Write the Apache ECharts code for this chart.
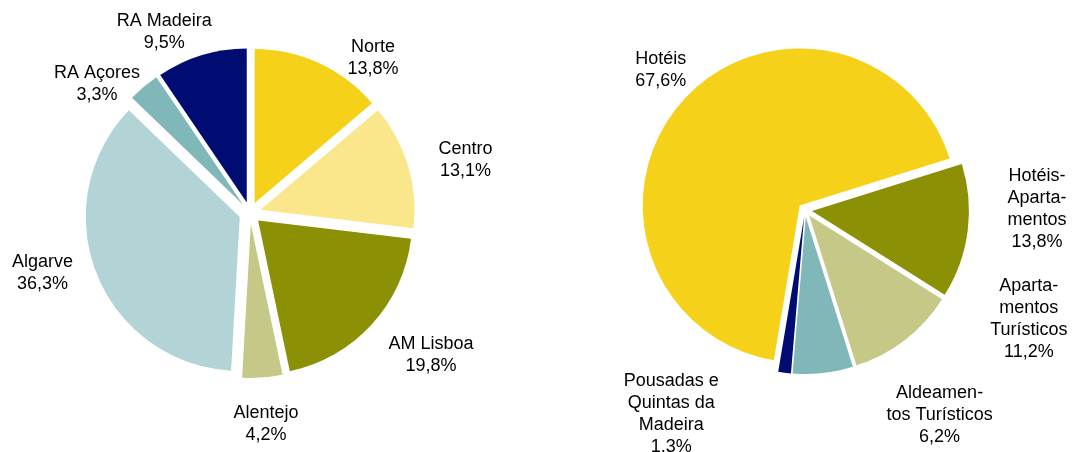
<!DOCTYPE html>
<html>
<head>
<meta charset="utf-8">
<script src="https://cdn.jsdelivr.net/npm/echarts@6/dist/echarts.min.js"></script>
<style>
html,body{margin:0;padding:0;background:#fff;}
#chart{width:1073px;height:452px;}
</style>
</head>
<body>
<div id="chart"></div>
<script>
// ---- data ----
const leftCategories = ['Norte', 'Centro', 'AM Lisboa', 'Alentejo', 'Algarve', 'RA Açores', 'RA Madeira'];
const leftValues = [13.8, 13.1, 19.8, 4.2, 36.3, 3.3, 9.5];
const leftLabelText = ['Norte', 'Centro', 'AM Lisboa', 'Alentejo', 'Algarve', 'RA Açores', 'RA Madeira'];

const rightCategories = ['Hotéis', 'Hotéis-Apartamentos', 'Apartamentos Turísticos', 'Aldeamentos Turísticos', 'Pousadas e Quintas da Madeira'];
const rightValues = [67.6, 13.8, 11.2, 6.2, 1.3];
const rightLabelText = ['Hotéis', 'Hotéis-\nAparta-\nmentos', 'Aparta-\nmentos\nTurísticos', 'Aldeamen-\ntos Turísticos', 'Pousadas e\nQuintas da\nMadeira'];

// ---- styles ----
const leftColors = ['#F6D11A', '#FAE68B', '#8B9005', '#C6C888', '#B3D4D6', '#80B7B8', '#000C72'];
const rightColors = ['#F6D11A', '#8B9005', '#C6C888', '#80B7B8', '#000C72'];

// label placement relative to each slice's bisector (angle shift in deg, distance in px)
const leftLabelShift = [13.6, 2.9, -4.4, 0, 5.3, -9.8, -8.3];
const leftLabelDist = [198, 222, 230, 212, 216, 200, 200];
const rightLabelShift = [3.1, -7.7, -26.4, -27.0, 26.1];
const rightLabelDist = [201, 232, 249, 245, 244];

function fmt(v) { return v.toFixed(1).replace('.', ',') + '%'; }

// label texts placed around each pie, following each slice's mid-angle
function makeLabels(cx, cy, startDeg, values, texts, shifts, dists) {
  const total = values.reduce((a, b) => a + b, 0);
  let s = 0;
  return values.map((v, i) => {
    const mid = startDeg + (s + v / 2) / total * 360 + shifts[i];
    s += v;
    const a = mid * Math.PI / 180;
    return {
      type: 'text',
      x: cx + dists[i] * Math.sin(a),
      y: cy - dists[i] * Math.cos(a),
      silent: true,
      style: {
        text: texts[i] + '\n' + fmt(v),
        fontFamily: 'Liberation Sans, Arial, sans-serif',
        fontSize: 18,
        lineHeight: 22,
        fill: '#000',
        align: 'center',
        verticalAlign: 'middle'
      }
    };
  });
}

const L = { cx: 250, cy: 213, r: 154, start: 0 };
const R = { cx: 805, cy: 210, r: 157, start: 189.5 };

const chart = echarts.init(document.getElementById('chart'));
chart.setOption({
  animation: false,
  backgroundColor: '#fff',
  graphic: makeLabels(L.cx, L.cy, L.start, leftValues, leftLabelText, leftLabelShift, leftLabelDist)
    .concat(makeLabels(R.cx, R.cy, R.start, rightValues, rightLabelText, rightLabelShift, rightLabelDist)),
  series: [
    {
      type: 'pie',
      center: [L.cx, L.cy],
      radius: L.r,
      startAngle: 90 - L.start,
      clockwise: true,
      selectedMode: 'multiple',
      selectedOffset: 11,
      emphasis: { disabled: true },
      label: { show: false },
      labelLine: { show: false },
      data: leftCategories.map((n, i) => ({
        name: n, value: leftValues[i], selected: true,
        itemStyle: { color: leftColors[i] }
      }))
    },
    {
      type: 'pie',
      center: [R.cx, R.cy],
      radius: R.r,
      startAngle: 90 - R.start,
      clockwise: true,
      selectedMode: 'multiple',
      selectedOffset: 7,
      emphasis: { disabled: true },
      label: { show: false },
      labelLine: { show: false },
      data: rightCategories.map((n, i) => ({
        name: n, value: rightValues[i], selected: true,
        itemStyle: { color: rightColors[i] }
      }))
    }
  ]
});
</script>
</body>
</html>
